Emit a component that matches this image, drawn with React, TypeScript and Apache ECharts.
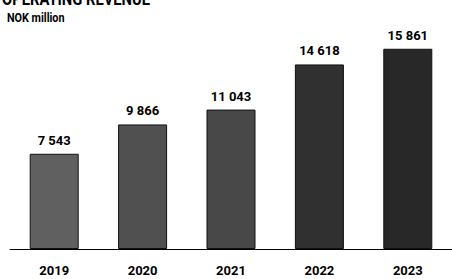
import React, { useEffect, useRef } from "react";
import * as echarts from "echarts";

const categories = ["2019", "2020", "2021", "2022", "2023"];
const revenue = [7543, 9866, 11043, 14618, 15861];
const barColors = ["#606060", "#505050", "#484848", "#303030", "#282828"];
const title = "OPERATING REVENUE";
const unit = "NOK million";

const FONT = "Roboto, 'DejaVu Sans Condensed', sans-serif";

const fmt = (v: number) => {
  const s = String(v);
  return s.length > 3 ? s.slice(0, s.length - 3) + " " + s.slice(s.length - 3) : s;
};

export default function App() {
  const ref = useRef<HTMLDivElement>(null);
  useEffect(() => {
    if (!ref.current) return;
    const chart = echarts.init(ref.current, undefined, { renderer: "svg" });
    chart.setOption({
      animation: false,
      backgroundColor: "#ffffff",
      graphic: [
        {
          type: "text",
          x: 2,
          y: -10,
          scaleX: 0.82,
          style: { text: title, fontFamily: FONT, fontWeight: "bold", fontSize: 18, fill: "#000" },
        },
        {
          type: "text",
          x: 7,
          y: 12,
          scaleX: 0.9,
          style: { text: unit, fontFamily: FONT, fontWeight: "bold", fontSize: 12, fill: "#000" },
        },
      ],
      grid: { left: 10, right: -3, top: 47, bottom: 30, containLabel: false },
      xAxis: {
        type: "category",
        data: categories,
        axisLine: { show: true, lineStyle: { color: "#000", width: 1 } },
        axisTick: { show: false },
        axisLabel: {
          color: "#000",
          fontFamily: FONT,
          fontWeight: "bold",
          fontSize: 13,
          margin: 15,
        },
      },
      yAxis: {
        type: "value",
        min: 0,
        max: 16000,
        show: false,
        splitLine: { show: false },
      },
      series: [
        {
          type: "bar",
          barWidth: 49,
          data: revenue.map((v, i) => ({
            value: v,
            itemStyle: { color: barColors[i], borderColor: "#111", borderWidth: 1 },
          })),
          label: {
            show: true,
            position: "top",
            distance: 7,
            color: "#000",
            fontFamily: FONT,
            fontWeight: "bold",
            fontSize: 13,
            formatter: (p: any) => fmt(p.value),
          },
        },
      ],
    });
    return () => chart.dispose();
  }, []);
  return <div ref={ref} style={{ width: 452, height: 279, position: "absolute", left: 0, top: 0 }} />;
}
